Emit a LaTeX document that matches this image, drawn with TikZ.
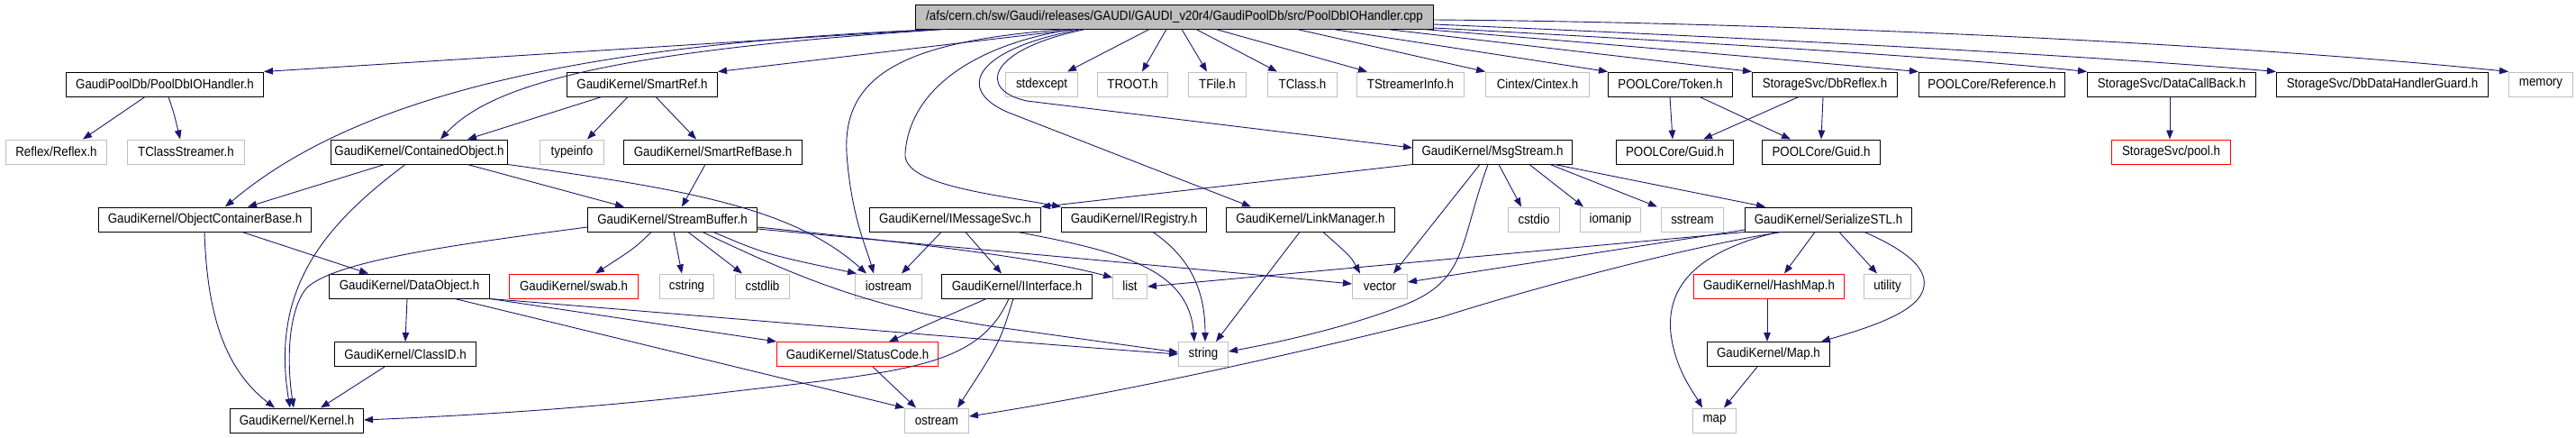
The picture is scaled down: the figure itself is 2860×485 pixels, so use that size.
\documentclass[tikz,border=0pt]{standalone}
\usepackage{fontspec}
\setmainfont{Liberation Sans}[FakeStretch=0.9]
\usetikzlibrary{arrows.meta}
\definecolor{edgec}{HTML}{191970}
\definecolor{extc}{HTML}{BFBFBF}
\begin{document}
\begin{tikzpicture}[x=1pt,y=-1pt,
  font=\fontsize{14.8}{16}\selectfont,
  bx/.style={draw=black,line width=1pt,minimum height=27pt,inner sep=0pt,anchor=west},
  ext/.style={bx,draw=extc},
  miss/.style={bx,draw=red},
  rootbox/.style={bx,fill=extc},
  e/.style={draw=edgec,line width=0.9pt,-{Triangle[length=10pt,width=7.5pt]}}]
\fill[white] (0,0) rectangle (2860,485);
\useasboundingbox (0,0) rectangle (2860,485);
% row 0
\node[rootbox,minimum width=575pt] (root) at (1016,18.5) {/afs/cern.ch/sw/Gaudi/releases/GAUDI/GAUDI\_v20r4/GaudiPoolDb/src/PoolDbIOHandler.cpp};
% row 1
\node[bx,minimum width=219pt] (pdbh) at (73,93.5) {GaudiPoolDb/PoolDbIOHandler.h};
\node[bx,minimum width=167pt] (smartref) at (629,93.5) {GaudiKernel/SmartRef.h};
\node[ext,minimum width=80pt] (stdexcept) at (1116,93.5) {stdexcept};
\node[ext,minimum width=78pt] (troot) at (1218,93.5) {TROOT.h};
\node[ext,minimum width=64pt] (tfile) at (1319,93.5) {TFile.h};
\node[ext,minimum width=77pt] (tclass) at (1407,93.5) {TClass.h};
\node[ext,minimum width=119pt] (tsi) at (1506,93.5) {TStreamerInfo.h};
\node[ext,minimum width=115pt] (cintex) at (1649,93.5) {Cintex/Cintex.h};
\node[bx,minimum width=138pt] (token) at (1785,93.5) {POOLCore/Token.h};
\node[bx,minimum width=161pt] (dbreflex) at (1945,93.5) {StorageSvc/DbReflex.h};
\node[bx,minimum width=162pt] (reference) at (2130,93.5) {POOLCore/Reference.h};
\node[bx,minimum width=187pt] (dcb) at (2317,93.5) {StorageSvc/DataCallBack.h};
\node[bx,minimum width=235pt] (dbdhg) at (2527,93.5) {StorageSvc/DbDataHandlerGuard.h};
\node[ext,minimum width=71pt] (memory) at (2785,93.5) {memory};
% row 2
\node[ext,minimum width=112pt] (reflex) at (6,168.5) {Reflex/Reflex.h};
\node[ext,minimum width=130pt] (tcs) at (141,168.5) {TClassStreamer.h};
\node[bx,minimum width=196pt] (contained) at (367,168.5) {GaudiKernel/ContainedObject.h};
\node[ext,minimum width=71pt] (typeinfo) at (599,168.5) {typeinfo};
\node[bx,minimum width=198pt] (smartrefbase) at (692,168.5) {GaudiKernel/SmartRefBase.h};
\node[bx,minimum width=177pt] (msgstream) at (1568,168.5) {GaudiKernel/MsgStream.h};
\node[bx,minimum width=130pt] (guida) at (1794,168.5) {POOLCore/Guid.h};
\node[bx,minimum width=131pt] (guidb) at (1956,168.5) {POOLCore/Guid.h};
\node[miss,minimum width=132pt] (pool) at (2344,168.5) {StorageSvc/pool.h};
% row 3
\node[bx,minimum width=236pt] (ocb) at (109,243.5) {GaudiKernel/ObjectContainerBase.h};
\node[bx,minimum width=188pt] (streambuffer) at (652,243.5) {GaudiKernel/StreamBuffer.h};
\node[bx,minimum width=190pt] (imsgsvc) at (965,243.5) {GaudiKernel/IMessageSvc.h};
\node[bx,minimum width=161pt] (iregistry) at (1178,243.5) {GaudiKernel/IRegistry.h};
\node[bx,minimum width=187pt] (linkmgr) at (1361,243.5) {GaudiKernel/LinkManager.h};
\node[ext,minimum width=57pt] (cstdio) at (1674,243.5) {cstdio};
\node[ext,minimum width=67pt] (iomanip) at (1754,243.5) {iomanip};
\node[ext,minimum width=69pt] (sstream) at (1844,243.5) {sstream};
\node[bx,minimum width=185pt] (serialize) at (1937,243.5) {GaudiKernel/SerializeSTL.h};
% row 4
\node[bx,minimum width=178pt] (dataobject) at (365,317.5) {GaudiKernel/DataObject.h};
\node[miss,minimum width=143pt] (swab) at (565,317.5) {GaudiKernel/swab.h};
\node[ext,minimum width=60pt] (cstring) at (732,317.5) {cstring};
\node[ext,minimum width=60pt] (cstdlib) at (816,317.5) {cstdlib};
\node[ext,minimum width=74pt] (iostream) at (949,317.5) {iostream};
\node[bx,minimum width=167pt] (iinterface) at (1045,317.5) {GaudiKernel/IInterface.h};
\node[ext,minimum width=38pt] (list) at (1235,317.5) {list};
\node[ext,minimum width=61pt] (vector) at (1501,317.5) {vector};
\node[miss,minimum width=167pt] (hashmap) at (1880,317.5) {GaudiKernel/HashMap.h};
\node[ext,minimum width=52pt] (utility) at (2069,317.5) {utility};
% row 5
\node[bx,minimum width=157pt] (classid) at (371,393) {GaudiKernel/ClassID.h};
\node[miss,minimum width=179pt] (statuscode) at (862,393) {GaudiKernel/StatusCode.h};
\node[ext,minimum width=55pt] (string) at (1308,393) {string};
\node[bx,minimum width=136pt] (maph) at (1895,393) {GaudiKernel/Map.h};
% row 6
\node[bx,minimum width=148pt] (kernel) at (255,466.5) {GaudiKernel/Kernel.h};
\node[ext,minimum width=71pt] (ostream) at (1004,466.5) {ostream};
\node[ext,minimum width=48pt] (map) at (1879,466.5) {map};

% ---- edges from root
\draw[e] (root.south -| 1040,0) -- (pdbh.north east);
\draw[e] (root.south -| 1050,0) .. controls (650,58) and (540,100) .. (contained.north -| 489,0);
\draw[e] (root.south -| 1045,0) .. controls (600,50) and (380,120) .. (ocb.north -| 250,0);
\draw[e] (root.south -| 1195,0) -- (smartref.north east);
\draw[e] (root.south -| 1185,0) .. controls (1010,45) and (935,80) .. (940,170) .. controls (945,240) and (962,275) .. (iostream.north -| 970,0);
\draw[e] (root.south -| 1190,0) .. controls (1080,50) and (1010,100) .. (1005,170) .. controls (1002,205) and (1100,215) .. (iregistry.north west);
\draw[e] (root.south -| 1200,0) .. controls (1080,55) and (1060,100) .. (1120,125) -- (linkmgr.north -| 1389,0);
\draw[e] (root.south -| 1205,0) .. controls (1095,55) and (1085,100) .. (1140,112) -- (msgstream.west |- 0,164);
\draw[e] (root.south -| 1276,0) -- (stdexcept.north -| 1185,0);
\draw[e] (root.south -| 1295,0) -- (troot.north -| 1268,0);
\draw[e] (root.south -| 1312,0) -- (tfile.north -| 1340,0);
\draw[e] (root.south -| 1328,0) -- (tclass.north -| 1418,0);
\draw[e] (root.south -| 1350,0) -- (tsi.north -| 1518,0);
\draw[e] (root.south -| 1440,0) -- (cintex.north west);
\draw[e] (root.south -| 1480,0) -- (token.north west);
\draw[e] (root.south -| 1540,0) -- (dbreflex.north west);
\draw[e] (root.south -| 1580,0) .. controls (1800,50) and (2000,68) .. (reference.north west);
\draw[e] (root.east |- 0,31) .. controls (1850,45) and (2150,62) .. (dcb.north west);
\draw[e] (root.east |- 0,27) .. controls (1900,40) and (2300,60) .. (dbdhg.north west);
\draw[e] (root.east |- 0,22) .. controls (2000,25) and (2500,50) .. (memory.north west);
% ---- row 1 sources
\draw[e] (pdbh.south -| 161,0) -- (reflex.north -| 92,0);
\draw[e] (pdbh.south -| 187,0) .. controls (193,125) .. (tcs.north -| 200,0);
\draw[e] (smartref.south -| 668,0) -- (contained.north -| 519,0);
\draw[e] (smartref.south -| 697,0) -- (typeinfo.north -| 652,0);
\draw[e] (smartref.south -| 728,0) -- (smartrefbase.north -| 773,0);
\draw[e] (token.south -| 1854,0) -- (guida.north -| 1857,0);
\draw[e] (token.south -| 1887,0) -- (guidb.north -| 1988,0);
\draw[e] (dbreflex.south -| 1997,0) -- (guida.north -| 1891,0);
\draw[e] (dbreflex.south -| 2024,0) -- (guidb.north -| 2022,0);
\draw[e] (dcb.south -| 2409,0) -- (pool.north -| 2409,0);
% ---- row 2 sources
\draw[e] (smartrefbase.south -| 783,0) -- (streambuffer.north -| 757,0);
\draw[e] (contained.south -| 427,0) -- (ocb.north -| 275,0);
\draw[e] (contained.south -| 519,0) -- (streambuffer.north -| 693,0);
\draw[e] (contained.south -| 450,0) .. controls (360,250) and (300,320) .. (kernel.north -| 322,0);
\draw[e] (contained.south east) .. controls (760,210) and (880,230) .. (iostream.north -| 962,0);
\draw[e] (msgstream.south west) -- (imsgsvc.north east);
\draw[e] (msgstream.south -| 1643,0) -- (vector.north -| 1547,0);
\draw[e] (msgstream.south -| 1652,0) .. controls (1620,270) and (1630,310) .. (1560,338) .. controls (1500,362) and (1420,380) .. (string.east |- 0,390);
\draw[e] (msgstream.south -| 1664,0) -- (cstdio.north -| 1689,0);
\draw[e] (msgstream.south -| 1698,0) -- (iomanip.north -| 1758,0);
\draw[e] (msgstream.south -| 1721,0) -- (sstream.north -| 1840,0);
\draw[e] (msgstream.south -| 1726,0) -- (serialize.north -| 1960,0);
% ---- row 3 sources
\draw[e] (ocb.south -| 227,0) .. controls (230,350) and (250,410) .. (kernel.north -| 305,0);
\draw[e] (ocb.south -| 269,0) -- (dataobject.north -| 409,0);
\draw[e] (streambuffer.west |- 0,252) .. controls (500,272) and (370,290) .. (340,320) .. controls (320,345) and (318,400) .. (kernel.north -| 326,0);
\draw[e] (streambuffer.south -| 723,0) .. controls (705,275) .. (swab.north -| 661,0);
\draw[e] (streambuffer.south -| 748,0) -- (cstring.north -| 757,0);
\draw[e] (streambuffer.south -| 764,0) -- (cstdlib.north -| 824,0);
\draw[e] (streambuffer.south -| 792,0) .. controls (850,282) .. (iostream.north -| 951,0);
\draw[e] (streambuffer.east |- 0,252) .. controls (1000,268) and (1150,285) .. (list.west |- 0,308);
\draw[e] (streambuffer.east |- 0,254) .. controls (1100,278) and (1400,305) .. (vector.west |- 0,315);
\draw[e] (streambuffer.south -| 780,0) .. controls (880,305) and (960,340) .. (1100,362) -- (string.west |- 0,391);
\draw[e] (imsgsvc.south -| 1045,0) -- (iostream.north -| 1001,0);
\draw[e] (imsgsvc.south -| 1072,0) -- (iinterface.north -| 1112,0);
\draw[e] (imsgsvc.south -| 1130,0) .. controls (1250,280) and (1320,300) .. (string.north -| 1326,0);
\draw[e] (iregistry.south -| 1280,0) .. controls (1320,285) and (1338,320) .. (string.north -| 1338,0);
\draw[e] (linkmgr.south -| 1443,0) -- (string.north -| 1350,0);
\draw[e] (linkmgr.south -| 1469,0) .. controls (1500,285) .. (vector.north -| 1510,0);
\draw[e] (serialize.west |- 0,255) -- (vector.east |- 0,313);
\draw[e] (serialize.south west) -- (list.east |- 0,318);
\draw[e] (serialize.south -| 1978,0) .. controls (1880,272) and (1700,320) .. (1600,352) .. controls (1450,390) and (1250,435) .. (ostream.east |- 0,462);
\draw[e] (serialize.south -| 2015,0) -- (hashmap.north -| 1981,0);
\draw[e] (serialize.south -| 2042,0) -- (utility.north -| 2084,0);
\draw[e] (serialize.south -| 2070,0) .. controls (2110,275) and (2140,295) .. (2136,318) .. controls (2132,345) and (2080,362) .. (maph.north -| 2022,0);
\draw[e] (serialize.south -| 1974,0) .. controls (1880,280) and (1850,320) .. (1855,370) .. controls (1860,410) and (1880,435) .. (map.north -| 1890,0);
% ---- row 4 sources
\draw[e] (dataobject.south -| 452,0) -- (classid.north -| 450,0);
\draw[e] (dataobject.south east) -- (statuscode.north west);
\draw[e] (dataobject.south east) .. controls (800,352) and (1100,378) .. (string.west |- 0,393);
\draw[e] (dataobject.south -| 505,0) -- (ostream.north west);
\draw[e] (iinterface.south -| 1095,0) -- (statuscode.north -| 987,0);
\draw[e] (iinterface.south -| 1125,0) .. controls (1110,380) .. (ostream.north -| 1063,0);
\draw[e] (iinterface.south -| 1120,0) .. controls (1085,410) and (1000,412) .. (800,436) .. controls (650,454) and (500,462) .. (kernel.east |- 0,466);
\draw[e] (hashmap.south -| 1962,0) -- (maph.north -| 1962,0);
% ---- row 5 sources
\draw[e] (classid.south -| 427,0) -- (kernel.north -| 356,0);
\draw[e] (statuscode.south -| 969,0) -- (ostream.north -| 1017,0);
\draw[e] (maph.south -| 1951,0) -- (map.north -| 1914,0);
\end{tikzpicture}
\end{document}
